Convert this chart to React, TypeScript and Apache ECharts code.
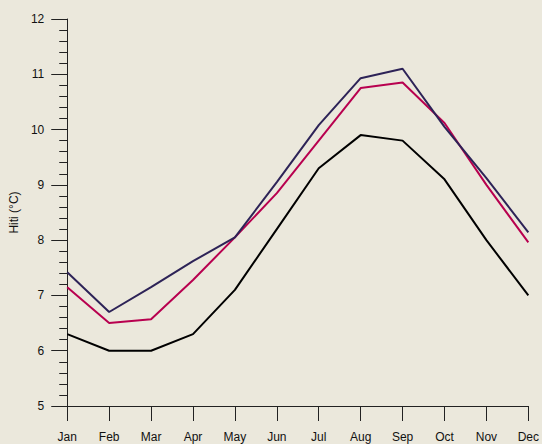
import React, { useEffect, useRef } from "react";
import * as echarts from "echarts";

const months = ["Jan", "Feb", "Mar", "Apr", "May", "Jun", "Jul", "Aug", "Sep", "Oct", "Nov", "Dec"];
const seriesBlack = [6.3, 6.0, 6.0, 6.3, 7.1, 8.2, 9.3, 9.9, 9.8, 9.1, 8.0, 7.0];
const seriesCrimson = [7.15, 6.5, 6.57, 7.28, 8.05, 8.85, 9.8, 10.75, 10.85, 10.12, 9.0, 7.96];
const seriesNavy = [7.42, 6.7, 7.15, 7.62, 8.05, 9.05, 10.08, 10.93, 11.1, 10.05, 9.12, 8.14];
const yTicks = { min: 5, max: 12, interval: 1 };

const FONT = "'Liberation Sans', Arial, sans-serif";

export default function App() {
  const ref = useRef<HTMLDivElement>(null);

  useEffect(() => {
    if (!ref.current) return;
    const chart = echarts.init(ref.current, null, { renderer: "svg" });
    const line = (name: string, data: number[], color: string) => ({
      name,
      type: "line",
      data,
      symbol: "none",
      lineStyle: { color, width: 2 },
      itemStyle: { color },
    });
    chart.setOption({
      animation: false,
      backgroundColor: "#ebe8dc",
      grid: { left: 67, right: 12, top: 19, bottom: 38 },
      xAxis: {
        type: "category",
        data: months,
        boundaryGap: false,
        axisLine: { lineStyle: { color: "#222", width: 1 } },
        axisTick: { show: true, length: 15, lineStyle: { color: "#222" } },
        axisLabel: { color: "#111", fontFamily: FONT, fontSize: 12, margin: 25 },
        splitLine: { show: false },
      },
      yAxis: {
        type: "value",
        min: yTicks.min,
        max: yTicks.max,
        interval: yTicks.interval,
        name: "Hiti (°C)",
        nameLocation: "middle",
        nameGap: 39,
        nameRotate: 90,
        nameTextStyle: { color: "#111", fontFamily: FONT, fontSize: 12 },
        axisLine: { show: true, lineStyle: { color: "#222", width: 1 } },
        axisTick: { show: true, length: 16, lineStyle: { color: "#222" } },
        minorTick: { show: true, splitNumber: 5, length: 8, lineStyle: { color: "#222" } },
        axisLabel: { color: "#111", fontFamily: FONT, fontSize: 12, margin: 23 },
        splitLine: { show: false },
      },
      series: [
        line("black", seriesBlack, "#000000"),
        line("crimson", seriesCrimson, "#b8004f"),
        line("navy", seriesNavy, "#2d2357"),
      ],
    });
    return () => chart.dispose();
  }, []);

  return <div ref={ref} style={{ width: 542, height: 444, position: "fixed", left: 0, top: 0 }} />;
}
